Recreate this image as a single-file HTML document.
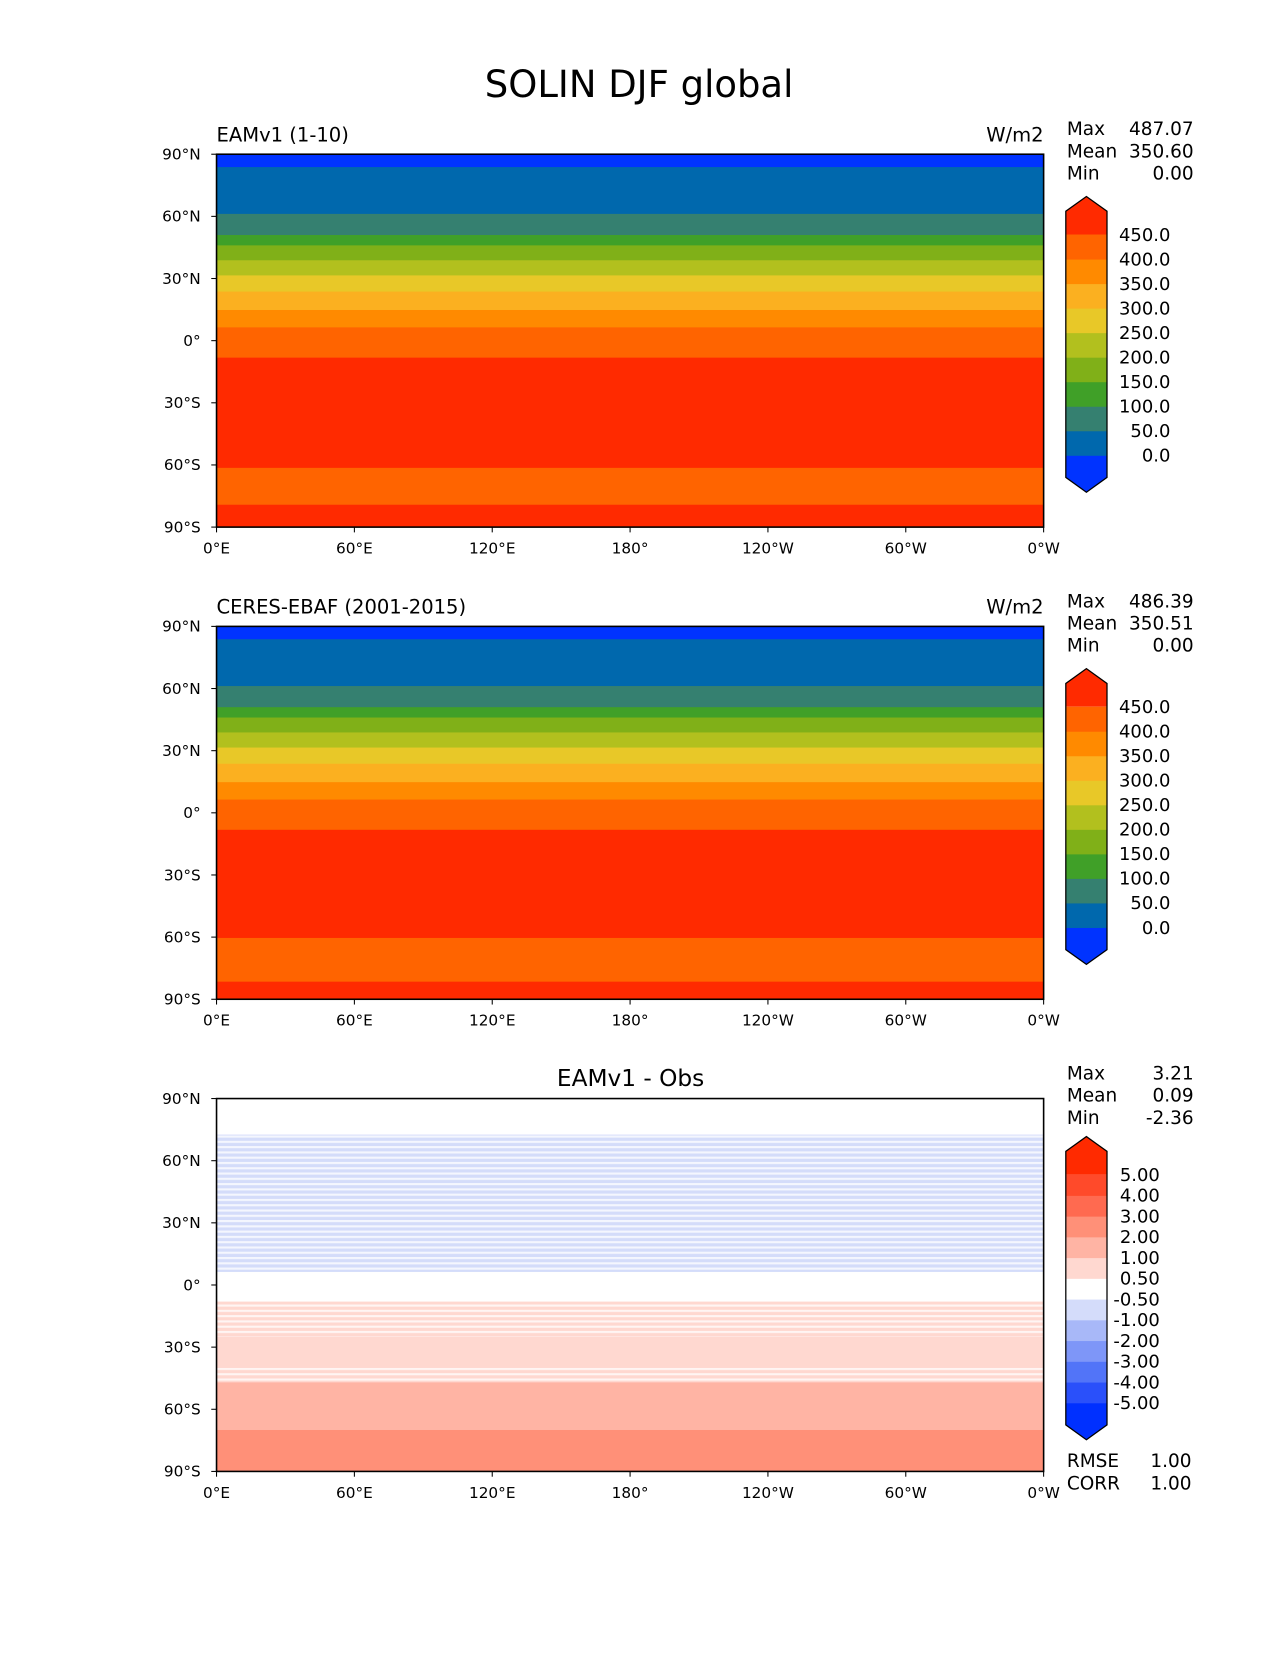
<!DOCTYPE html>
<html><head><meta charset="utf-8"><style>
body{margin:0;background:#fff}
svg text{font-family:"DejaVu Sans","Liberation Sans",sans-serif;fill:#000}
</style></head><body>
<svg width="1275" height="1650" viewBox="0 0 1275 1650" xmlns="http://www.w3.org/2000/svg">
<defs>
<pattern id="stripes" width="6" height="5" patternUnits="userSpaceOnUse"><rect width="6" height="2" fill="#fff" fill-opacity="0.75"/></pattern>
</defs>
<g id="fig" transform="scale(1.0563)">
<text x="605" y="92" font-size="35" text-anchor="middle">SOLIN DJF global</text>
</g>
</svg>
<script>
// ---- data ----
const lonTicks = ["0°E","60°E","120°E","180°","120°W","60°W","0°W"];
const latTicks = ["90°N","60°N","30°N","0°","30°S","60°S","90°S"];
const edges1 = [90,83.8,61.2,51,46,38.8,31.5,23.7,14.8,6.4,-8.2,-61.4,-79.2,-90];
const vals1  = [-10,25,75,125,175,225,275,325,375,425,470,425,470];
const edges2 = [90,83.8,61.2,51,46,38.8,31.5,23.7,14.8,6.4,-8.2,-60.4,-81.5,-90];
const vals2  = [-10,25,75,125,175,225,275,325,375,425,470,425,470];
const edges3 = [90,72.6,6.3,-8,-25,-40,-47,-70,-90];
const vals3  = [0,-0.55,0,0.55,0.7,0.9,1.2,2.2];
const striped3 = [false,true,false,true,false,true,false,false];
const levels1 = [0,50,100,150,200,250,300,350,400,450];
const labels1 = ["0.0","50.0","100.0","150.0","200.0","250.0","300.0","350.0","400.0","450.0"];
const colors1 = ["#0033ff","#0068ad","#358070","#40a028","#80b018","#b2c01e","#e8c828","#fbb020","#ff8a00","#ff6400","#ff2a00"];
const levels3 = [-5,-4,-3,-2,-1,-0.5,0.5,1,2,3,4,5];
const labels3 = ["-5.00","-4.00","-3.00","-2.00","-1.00","-0.50","0.50","1.00","2.00","3.00","4.00","5.00"];
const colors3 = ["#0030ff","#2a50fa","#5274f8","#7e96f8","#a8b8f8","#d4dcfa","#ffffff","#ffd8d0","#ffb4a4","#ff9078","#ff6a50","#ff4a2a","#ff2a00"];
const stats1 = [["Max","487.07"],["Mean","350.60"],["Min","0.00"]];
const stats2 = [["Max","486.39"],["Mean","350.51"],["Min","0.00"]];
const stats3 = [["Max","3.21"],["Mean","0.09"],["Min","-2.36"]];

const NS="http://www.w3.org/2000/svg";
const svg=document.getElementById('fig');
function mk(tag,attrs,parent){const e=document.createElementNS(NS,tag);for(const k in attrs)e.setAttribute(k,attrs[k]);(parent||svg).appendChild(e);return e;}
function colorFor(v,levels,colors){let i=0;while(i<levels.length&&v>=levels[i])i++;return colors[i];}

function panel(top,edges,vals,levels,colors,stats,name,striped){
  const L=205,R=988,B=top+353;
  const y=lat=>top+(90-lat)/180*(B-top);
  const x=i=>L+i*(R-L)/6;
  const g=mk('g',{});
  
  
  for(let i=0;i<vals.length;i++){
    const r=mk('rect',{x:L,y:y(edges[i]),width:R-L,height:y(edges[i+1])-y(edges[i])+0.5,fill:colorFor(vals[i],levels,colors)},g);
    
    
    if(striped&&striped[i]){
      mk('rect',{x:L,y:y(edges[i]),width:R-L,height:y(edges[i+1])-y(edges[i]),fill:'url(#stripes)'},g);
    }
  }
  mk('rect',{x:L,y:top,width:R-L,height:B-top,fill:'none',stroke:'#000','stroke-width':1.5},g);
  latTicks.forEach((t,i)=>{const yy=y(90-i*30);
    mk('line',{x1:L-5,x2:L,y1:yy,y2:yy,stroke:'#000'},g);
    const tx=mk('text',{x:L-15,y:yy+5,'font-size':14.5,'text-anchor':'end'},g);tx.textContent=t;
    
    });
  lonTicks.forEach((t,i)=>{const xx=x(i);
    mk('line',{x1:xx,x2:xx,y1:B,y2:B+5,stroke:'#000'},g);
    const tx=mk('text',{x:xx,y:B+25,'font-size':14.5,'text-anchor':'middle'},g);tx.textContent=t;
    
    });
  stats.forEach((s,i)=>{
    const a=mk('text',{x:1010,y:top-18+i*21,'font-size':17.5},g);a.textContent=s[0];
    
    
    const b=mk('text',{x:1130,y:top-18+i*21,'font-size':17.5,'text-anchor':'end'},g);b.textContent=s[1];
    
    });
  return g;
}
function colorbar(topLbl,botLbl,levels,labels,colors,name,lblX){
  const X=1009,W=39,n=levels.length-1,step=(botLbl-topLbl)/n;
  const g=mk('g',{});
  
  
  const yl=i=>botLbl-i*step;
  const tipT=topLbl-36,tipB=botLbl+35;
  mk('polygon',{points:`${X},${topLbl} ${X},${tipT+14} ${X+W/2},${tipT} ${X+W},${tipT+14} ${X+W},${topLbl}`,fill:colors[colors.length-1]},g);
  mk('polygon',{points:`${X},${botLbl} ${X},${tipB-14} ${X+W/2},${tipB} ${X+W},${tipB-14} ${X+W},${botLbl}`,fill:colors[0]},g);
  for(let i=0;i<n;i++){const c=mk('rect',{x:X,y:yl(i+1),width:W,height:step+0.5,fill:colors[i+1]},g);
    
    }
  mk('polygon',{points:`${X},${botLbl} ${X},${tipB-14} ${X+W/2},${tipB} ${X+W},${tipB-14} ${X+W},${tipT+14} ${X+W/2},${tipT} ${X},${tipT+14}`,fill:'none',stroke:'#000','stroke-width':1.2},g);
  labels.forEach((t,i)=>{const tx=mk('text',{x:lblX,y:yl(i)+6,'font-size':17,'text-anchor':'end'},g);tx.textContent=t;
    
    });
}
function txt(s,x,y,size,anchor,name){const t=mk('text',{x:x,y:y,'font-size':size,'text-anchor':anchor||'start'});t.textContent=s;
  
  }

panel(146,edges1,vals1,levels1,colors1,stats1,'model');
txt('EAMv1 (1-10)',205,134,18.5,'start','panel1-title');
txt('W/m2',988,134,18.5,'end','panel1-units');
colorbar(222,431,levels1,labels1,colors1,'colorbar-1',1108);

panel(593,edges2,vals2,levels1,colors1,stats2,'obs');
txt('CERES-EBAF (2001-2015)',205,581,18.5,'start','panel2-title');
txt('W/m2',988,581,18.5,'end','panel2-units');
colorbar(669,878,levels1,labels1,colors1,'colorbar-2',1108);

panel(1040,edges3,vals3,levels3,colors3,stats3,'diff',striped3);
txt('EAMv1 - Obs',597,1028,22,'middle','panel3-title');
colorbar(1112,1328,levels3,labels3,colors3,'colorbar-3',1098);
txt('RMSE',1010,1389,17.5,'start','rmse-label');
txt('1.00',1128,1389,17.5,'end','rmse-value');
txt('CORR',1010,1410,17.5,'start','corr-label');
txt('1.00',1128,1410,17.5,'end','corr-value');
</script>
</body></html>
